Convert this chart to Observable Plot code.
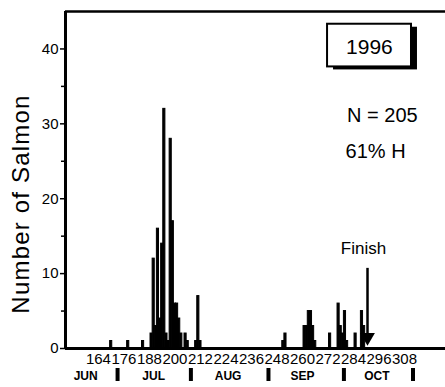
<!DOCTYPE html>
<html><head><meta charset="utf-8">
<script src="https://cdn.jsdelivr.net/npm/d3@7"></script>
<script src="https://cdn.jsdelivr.net/npm/@observablehq/plot@0.6"></script>
<style>
body{margin:0;background:#fff;}
#chart{width:445px;height:387px;}
</style></head><body><div id="chart"></div>
<script>
// Daily counts of salmon (day of year, 1996)
const days   = [170,178,185,189,190,191,192,193,194,195,196,197,198,199,200,201,202,203,205,206,210,211,212,251,252,261,262,263,264,265,266,273,277,278,279,280,281,285,288,289];
const counts = [  1,  1,  1,  2, 12,  3, 16,  4, 14, 32,  2,  1, 28, 17,  6,  6,  4,  2,  2,  1,  1,  7,  1,  1,  2,  3,  3,  5,  5,  3,  1,  2,  6,  3,  2,  5,  1,  2,  5,  3];
const dayTicks = [164,176,188,200,212,224,236,248,260,272,284,296,308];
const monthBounds = [173,207.5,244,279.5,312];
const monthMids = [158,190,225,260,295];
const monthNames = ["JUN","JUL","AUG","SEP","OCT"];
const yMajor = [0,10,20,30,40];
const yMinor = [5,15,25,35];
const xDomain = [148.5, 327.3];
const yDomain = [0, 45];
const finishDay = 290.6, finishTop = 10.7;

const data = days.map((d, i) => ({day: d, count: counts[i]}));
const font = "'Liberation Sans', Arial, Helvetica, sans-serif";

const chart = Plot.plot({
  width: 445, height: 387,
  marginLeft: 65, marginRight: 0, marginTop: 11, marginBottom: 39,
  style: {fontFamily: font, fontSize: "14px", background: "white", color: "black", overflow: "visible"},
  x: {domain: xDomain},
  y: {domain: yDomain},
  marks: [
    Plot.rectY(data, {x1: d => d.day - 0.5, x2: d => d.day + 0.5, y: "count", fill: "black", stroke: "black", strokeWidth: 1}),
    Plot.ruleY([0], {stroke: "black", strokeWidth: 3}),
    Plot.ruleY([yDomain[1]], {stroke: "black", strokeWidth: 2.5}),
    Plot.ruleX([xDomain[0]], {stroke: "black", strokeWidth: 3}),
    Plot.axisY(yMajor, {tickSize: 5, tickPadding: 2, fontSize: 15, strokeWidth: 1.5, label: null}),
    Plot.axisY(yMinor, {tickSize: 4, tickFormat: () => "", strokeWidth: 1.5, label: null}),
    Plot.axisX(dayTicks, {tickSize: 0, tickPadding: 5, fontSize: 15, tickFormat: d => String(d), label: null}),
    Plot.axisX(monthBounds, {tickSize: 13, dy: 20, tickFormat: () => "", strokeWidth: 4, label: null}),
    Plot.axisX(monthMids, {tickSize: 0, tickPadding: 23, fontSize: 12, fontWeight: "bold", tickFormat: d => monthNames[monthMids.indexOf(d)], label: null}),
    // y-axis title
    Plot.text(["Number of Salmon"], {frameAnchor: "left", textAnchor: "middle", rotate: -90, dx: -44, dy: 24, fontSize: 24, text: d => d}),
    // 1996 box
    Plot.rect([0], {x1: 273.2, x2: 312.7, y1: 43.3, y2: 37.6, fill: "black", dx: 3, dy: 3}),
    Plot.rect([0], {x1: 271.8, x2: 311.3, y1: 43.3, y2: 37.6, fill: "white", stroke: "black", strokeWidth: 2}),
    Plot.text(["1996"], {x: 291.5, y: 40.2, fontSize: 21, text: d => d}),
    Plot.text(["N = 205"], {x: 297.6, y: 31.1, fontSize: 20, text: d => d}),
    Plot.text(["61% H"], {x: 294.4, y: 26.3, fontSize: 20, text: d => d}),
    Plot.text(["Finish"], {x: 288.7, y: 13.3, fontSize: 17, text: d => d}),
    // finish arrow
    Plot.ruleX([finishDay], {y1: finishTop, y2: 1.5, stroke: "black", strokeWidth: 2.5}),
    Plot.dot([finishDay], {x: d => d, y: 1.5, symbol: "triangle", rotate: 180, r: 5.5, fill: "black", stroke: "none"})
  ]
});
d3.select(chart).selectAll("text").filter(function(){ return this.textContent === "Number of Salmon"; })
  .attr("letter-spacing", "1.2px");
document.getElementById("chart").appendChild(chart);
</script>
</body></html>
